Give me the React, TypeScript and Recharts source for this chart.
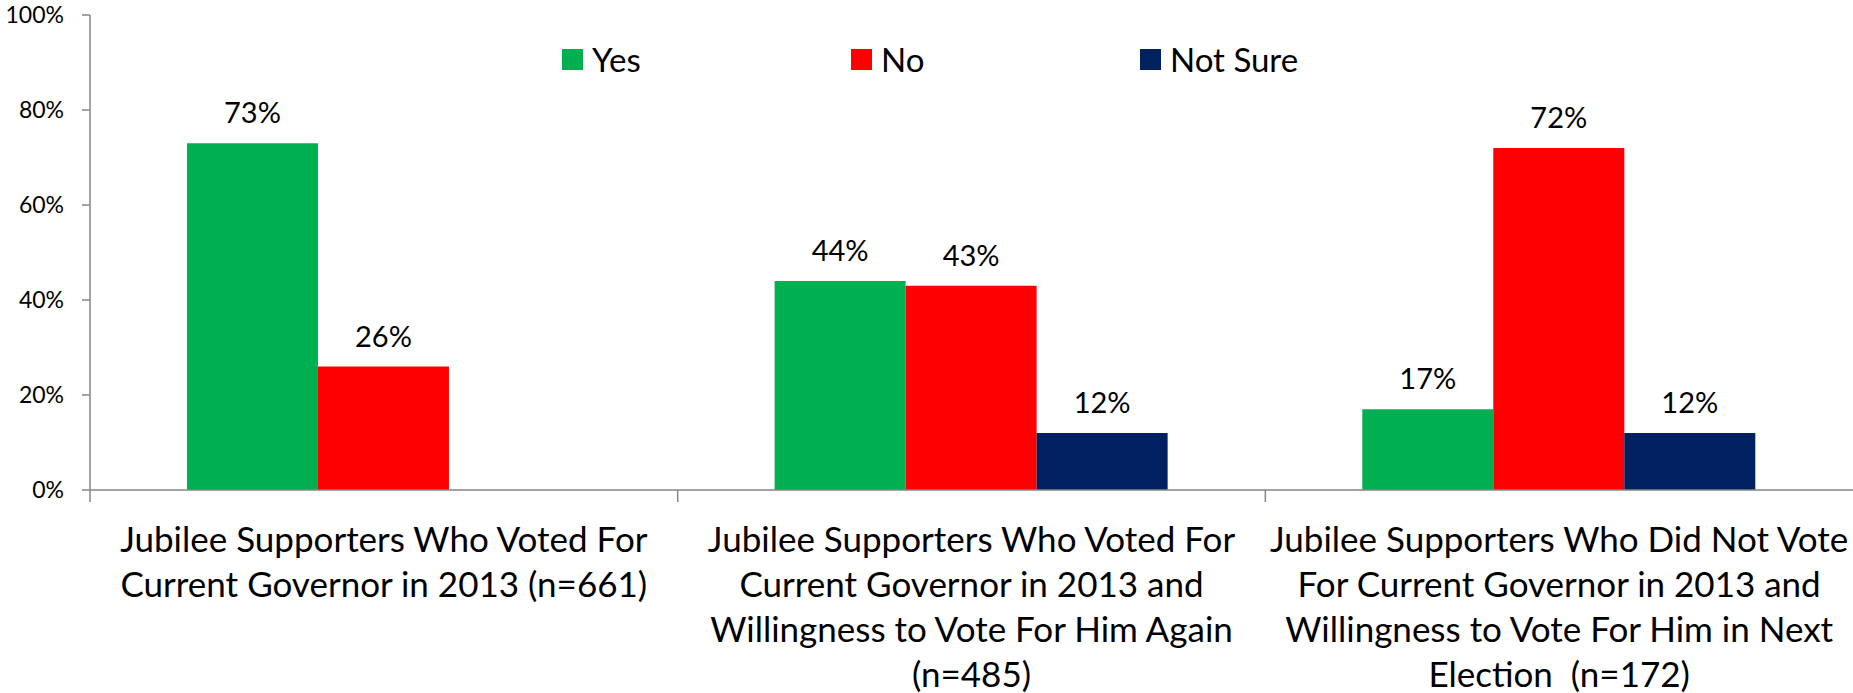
import React from 'react';
import { BarChart, Bar, XAxis, YAxis, Legend, LabelList } from 'recharts';

const categories = [
  'Jubilee Supporters Who Voted For\nCurrent Governor in 2013 (n=661)',
  'Jubilee Supporters Who Voted For\nCurrent Governor in 2013 and\nWillingness to Vote For Him Again\n(n=485)',
  'Jubilee Supporters Who Did Not Vote\nFor Current Governor in 2013 and\nWillingness to Vote For Him in Next\nElection  (n=172)',
];
const yes = [73, 44, 17];
const no = [26, 43, 72];
const notSure = [null, 12, 12];
const yTicks = [0, 20, 40, 60, 80, 100];
const seriesNames = ['Yes', 'No', 'Not Sure'];
const seriesKeys = ['yes', 'no', 'notSure'];
const seriesColors = ['#00B050', '#FF0000', '#002060'];

const data = categories.map((name, i) => ({
  name,
  yes: yes[i],
  no: no[i],
  notSure: notSure[i],
}));

const AXIS = '#868686';
const FONT = 'Lato, "Noto Sans", sans-serif';

const pct = (v: any) => (v == null ? '' : `${v}%`);

function CategoryTick(props: any) {
  const { x, y, payload } = props;
  const half = payload.offset || (1853 - 90) / 6;
  const lines = String(payload.value).split('\n');
  return (
    <g>
      <line x1={x - half} y1={y} x2={x - half} y2={y + 12} stroke={AXIS} strokeWidth={1.5} />
      <text x={x} y={y} textAnchor="middle" fontSize={35} fill="#000" fontFamily={FONT}>
        {lines.map((l, i) => (
          <tspan key={i} x={x} y={y + 62 + i * 45} style={{ whiteSpace: 'pre' }}>
            {l}
          </tspan>
        ))}
      </text>
    </g>
  );
}

function renderLegend() {
  return (
    <div style={{ display: 'flex', fontFamily: FONT }}>
      {seriesNames.map((n, i) => (
        <div key={n} style={{ display: 'flex', alignItems: 'center', width: 289, height: 21 }}>
          <span style={{ width: 21, height: 21, background: seriesColors[i], display: 'inline-block' }} />
          <span style={{ marginLeft: 9, fontSize: 33, lineHeight: 1, color: '#000' }}>{n}</span>
        </div>
      ))}
    </div>
  );
}

export default function App() {
  return (
    <div style={{ position: 'absolute', left: 0, top: 0, background: '#fff', fontFamily: FONT }}>
      <BarChart
        width={1853}
        height={693}
        data={data}
        margin={{ top: 15, right: 0, bottom: 0, left: 0 }}
        barCategoryGap="16.5%"
        barGap={0}
      >
        <YAxis
          width={90}
          domain={[0, 100]}
          ticks={yTicks}
          tickFormatter={pct}
          interval={0}
          stroke={AXIS}
          strokeWidth={1.5}
          tickSize={8}
          tickMargin={18}
          tick={{ fontSize: 23, fill: '#000', fontFamily: FONT }}
        />
        <XAxis
          dataKey="name"
          height={203}
          interval={0}
          stroke={AXIS}
          strokeWidth={1.5}
          tickLine={false}
          tickSize={0}
          tickMargin={0}
          tick={<CategoryTick />}
        />
        <Legend
          layout="horizontal"
          verticalAlign="middle"
          align="center"
          content={renderLegend}
          wrapperStyle={{ top: 49, left: 562, width: 900 }}
        />
        {seriesKeys.map((k, i) => (
          <Bar key={k} dataKey={k} name={seriesNames[i]} fill={seriesColors[i]} isAnimationActive={false}>
            <LabelList
              dataKey={k}
              position="top"
              offset={20}
              formatter={pct}
              style={{ fontSize: 29, fill: '#000', fontFamily: FONT }}
            />
          </Bar>
        ))}
      </BarChart>
    </div>
  );
}
